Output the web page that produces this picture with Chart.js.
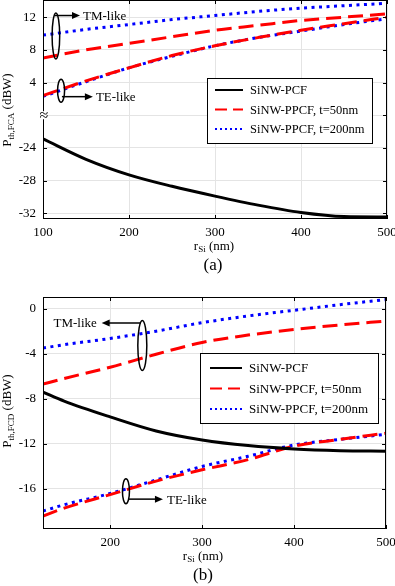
<!DOCTYPE html>
<html>
<head>
<meta charset="utf-8">
<script src="https://cdn.jsdelivr.net/npm/chart.js@4.4.1/dist/chart.umd.min.js"></script>
<style>
  body { margin: 0; background: #fff; }
  .panel { position: absolute; left: 0; width: 395px; }
</style>
</head>
<body>
<div class="panel" style="top:0;height:290px"><canvas id="chartA" width="395" height="290"></canvas></div>
<div class="panel" style="top:290px;height:296px"><canvas id="chartB" width="395" height="296"></canvas></div>
<script>
// ---- panel (a): P_th,FCA vs r_Si ----
const radiusA = [100, 150, 200, 250, 300, 350, 400, 450, 500];
const pcfA = [-22.9, -25.4, -27.3, -28.7, -29.9, -31.0, -31.9, -32.4, -32.45];
const tm50A = [7.0, 8.0, 8.8, 9.6, 10.4, 11.0, 11.6, 12.0, 12.4];
const tm200A = [9.8, 10.5, 11.1, 11.7, 12.2, 12.7, 13.1, 13.4, 13.7];
const te50A = [2.4, 4.2, 5.8, 7.3, 8.5, 9.5, 10.4, 11.2, 12.0];
const te200A = [2.3, 4.1, 5.8, 7.2, 8.5, 9.5, 10.3, 11.1, 11.8];
const xTicksA = [100, 200, 300, 400, 500];
const yTicksA = [-32, -28, -24, 4, 8, 12];   // real values, axis is broken between them

// ---- panel (b): P_th,FCD vs r_Si ----
const radiusB = [127, 150, 200, 250, 300, 350, 400, 450, 500];
const pcfB = [-7.4, -8.2, -9.6, -10.85, -11.65, -12.15, -12.45, -12.6, -12.65];
const tm50B = [-6.7, -6.2, -5.2, -4.05, -3.0, -2.35, -1.85, -1.45, -1.1];
const tm200B = [-3.5, -3.2, -2.65, -2.0, -1.25, -0.65, -0.15, 0.35, 0.8];
const te50B = [-18.4, -17.7, -16.5, -15.3, -14.3, -13.4, -12.2, -11.6, -11.05];
const te200B = [-17.95, -17.4, -16.4, -15.2, -14.0, -13.1, -12.1, -11.6, -11.15];
const xTicksB = [200, 300, 400, 500];
const yTicksB = [-16, -12, -8, -4, 0];

const seriesNames = ['SiNW-PCF', 'SiNW-PPCF, t=50nm', 'SiNW-PPCF, t=200nm'];

// broken axis: negative values are shifted up by 20 dB so the gap shrinks
const GAP = 20;
function toBroken(v) { return v < 0 ? v + GAP : v; }
function fromBroken(v) { return v < 0 ? v - GAP : v; }

const serif = 'Liberation Serif';

function pts(xs, ys, f) {
    return xs.map((x, i) => ({ x: x, y: f ? f(ys[i]) : ys[i] }));
}

function lineSet(label, data, color, dash, legend) {
    return {
        label: label, data: data, borderColor: color, backgroundColor: color,
        borderWidth: 3, borderDash: dash, pointRadius: 0,
        cubicInterpolationMode: 'monotone', fill: false, showInLegend: legend
    };
}

// draws text made of parts (normal + subscript), centred at (x,y)
function richText(ctx, parts, x, y, rot) {
    ctx.save();
    ctx.translate(x, y);
    if (rot) ctx.rotate(rot);
    ctx.textBaseline = 'alphabetic';
    ctx.textAlign = 'left';
    let total = 0;
    parts.forEach(p => { ctx.font = p.size + 'px "' + serif + '"'; p.w = ctx.measureText(p.t).width; total += p.w; });
    let cx = -total / 2;
    parts.forEach(p => {
        ctx.font = p.size + 'px "' + serif + '"';
        ctx.fillStyle = '#000';
        ctx.fillText(p.t, cx, 4 + (p.dy || 0));
        cx += p.w;
    });
    ctx.restore();
}

const decorPlugin = {
    id: 'decor',
    afterDraw(chart, args, opts) {
        const ctx = chart.ctx;
        const a = chart.chartArea;
        const xs = chart.scales.x, ys = chart.scales.y;
        ctx.save();
        // inner tick marks + box
        ctx.strokeStyle = '#000';
        ctx.lineWidth = 1;
        ctx.beginPath();
        ys.ticks.forEach(t => {
            const py = Math.round(ys.getPixelForValue(t.value)) + 0.5;
            ctx.moveTo(a.left, py); ctx.lineTo(a.left + 4, py);
            ctx.moveTo(a.right, py); ctx.lineTo(a.right - 4, py);
        });
        xs.ticks.forEach(t => {
            const px = Math.round(xs.getPixelForValue(t.value)) + 0.5;
            ctx.moveTo(px, a.bottom); ctx.lineTo(px, a.bottom - 4);
            ctx.moveTo(px, a.top); ctx.lineTo(px, a.top + 4);
        });
        ctx.stroke();
        ctx.strokeRect(Math.round(a.left) + 0.5, Math.round(a.top) + 0.5,
            Math.round(a.right - a.left) - 1, Math.round(a.bottom - a.top) - 1);

        // axis break mark
        if (opts.breakAt !== undefined) {
            const by = ys.getPixelForValue(opts.breakAt);
            ctx.fillStyle = '#fff';
            ctx.fillRect(a.left - 4, by - 4, 9, 8);
            ctx.fillStyle = '#000';
            ctx.font = '16px "' + serif + '"';
            ctx.textAlign = 'center';
            ctx.textBaseline = 'middle';
            ctx.fillText('\u2248', a.left + 1, by + 1);
        }

        // ellipses / arrows / labels
        (opts.notes || []).forEach(n => {
            ctx.strokeStyle = '#000';
            ctx.fillStyle = '#000';
            ctx.lineWidth = 1.5;
            const ex = xs.getPixelForValue(n.ex), ey = ys.getPixelForValue(n.ey);
            ctx.beginPath();
            ctx.ellipse(ex, ey, n.rx, n.ry, 0, 0, Math.PI * 2);
            ctx.stroke();
            const x1 = xs.getPixelForValue(n.ax1), x2 = xs.getPixelForValue(n.ax2);
            const ay = ys.getPixelForValue(n.ay);
            const dir = x2 > x1 ? 1 : -1;
            ctx.beginPath();
            ctx.moveTo(x1, ay); ctx.lineTo(x2 - dir * 6, ay);
            ctx.stroke();
            ctx.beginPath();
            ctx.moveTo(x2, ay); ctx.lineTo(x2 - dir * 8, ay - 3.5); ctx.lineTo(x2 - dir * 8, ay + 3.5);
            ctx.closePath();
            ctx.fill();
            ctx.font = '13px "' + serif + '"';
            ctx.textBaseline = 'middle';
            ctx.textAlign = n.align;
            ctx.fillText(n.text, xs.getPixelForValue(n.tx), ay + 1);
        });

        // legend box built from the datasets
        const L = opts.legend;
        ctx.fillStyle = '#fff';
        ctx.fillRect(L.x, L.y, L.w, L.h);
        ctx.strokeStyle = '#000';
        ctx.lineWidth = 1;
        ctx.strokeRect(L.x + 0.5, L.y + 0.5, L.w, L.h);
        let row = 0;
        chart.data.datasets.forEach(ds => {
            if (!ds.showInLegend) return;
            const ry = L.y + L.first + row * L.step;
            ctx.strokeStyle = ds.borderColor;
            ctx.lineWidth = 2;
            ctx.setLineDash(ds.borderDash.length ? L.dashes[row] : []);
            ctx.beginPath();
            ctx.moveTo(L.x + L.s1, ry); ctx.lineTo(L.x + L.s2, ry);
            ctx.stroke();
            ctx.setLineDash([]);
            ctx.fillStyle = '#000';
            ctx.font = L.font + 'px "' + serif + '"';
            ctx.textAlign = 'left';
            ctx.textBaseline = 'middle';
            ctx.fillText(ds.label, L.x + L.tx, ry + 1);
            row++;
        });

        // axis titles and panel label
        richText(ctx, opts.yTitle.parts, opts.yTitle.x, opts.yTitle.y, -Math.PI / 2);
        richText(ctx, opts.xTitle.parts, opts.xTitle.x, opts.xTitle.y, 0);
        ctx.font = '17px "' + serif + '"';
        ctx.fillStyle = '#000';
        ctx.textAlign = 'center';
        ctx.textBaseline = 'middle';
        ctx.fillText(opts.panel.t, opts.panel.x, opts.panel.y);
        ctx.restore();
    }
};

function axisX(min, max, ticks, height) {
    return {
        type: 'linear', min: min, max: max,
        afterBuildTicks: s => { s.ticks = ticks.map(v => ({ value: v })); },
        afterFit: s => { s.height = height; s.paddingLeft = 0; s.paddingRight = 0; },
        grid: { color: '#e4e4e4', drawTicks: false },
        border: { display: false },
        ticks: { padding: 6, color: '#000', font: { family: serif, size: 13 }, maxRotation: 0 }
    };
}

function axisY(min, max, ticks, labelFn) {
    return {
        type: 'linear', min: min, max: max,
        afterBuildTicks: s => { s.ticks = ticks.map(v => ({ value: v })); },
        afterFit: s => { s.width = 43; s.paddingTop = 0; s.paddingBottom = 0; },
        grid: { color: '#e4e4e4', drawTicks: false },
        border: { display: false },
        ticks: { padding: 7, color: '#000', font: { family: serif, size: 13 }, callback: labelFn }
    };
}

const legendDashes = [[], [12, 6], [2, 3]];

new Chart(document.getElementById('chartA').getContext('2d'), {
    type: 'line',
    data: {
        datasets: [
            lineSet(seriesNames[0], pts(radiusA, pcfA, toBroken), '#000', [], true),
            lineSet(seriesNames[1], pts(radiusA, tm50A, toBroken), '#ff0000', [15, 7], true),
            lineSet(seriesNames[2], pts(radiusA, tm200A, toBroken), '#0000ff', [3, 4.5], true),
            lineSet(seriesNames[1], pts(radiusA, te50A, toBroken), '#ff0000', [15, 7], false),
            lineSet(seriesNames[2], pts(radiusA, te200A, toBroken), '#0000ff', [3, 4.5], false)
        ]
    },
    plugins: [decorPlugin],
    options: {
        responsive: false,
        animation: false,
        layout: { padding: { left: 0, right: 8, top: 0, bottom: 0 } },
        scales: {
            x: axisX(100, 500, xTicksA, 71),
            y: axisY(-12.7, 14.1, [0].concat(yTicksA.map(toBroken)),
                v => v === 0 ? '' : String(fromBroken(v)))
        },
        plugins: {
            legend: { display: false },
            tooltip: { enabled: false },
            decor: {
                breakAt: 0,
                notes: [
                    { text: 'TM-like', ex: 115, ey: 9.7, rx: 3.8, ry: 23, ax1: 113, ax2: 143, ay: 12.2, tx: 146.5, align: 'left' },
                    { text: 'TE-like', ex: 121, ey: 3.0, rx: 3.5, ry: 11.5, ax1: 122, ax2: 158, ay: 2.27, tx: 161.5, align: 'left' }
                ],
                legend: { x: 207, y: 78, w: 165, h: 65, first: 12, step: 19.5, s1: 8, s2: 36, tx: 43, font: 12.5, dashes: legendDashes },
                yTitle: { x: 7, y: 110, parts: [{ t: 'P', size: 13 }, { t: 'th,FCA', size: 9, dy: 3 }, { t: ' (dBW)', size: 13 }] },
                xTitle: { x: 214, y: 246, parts: [{ t: 'r', size: 13 }, { t: 'Si', size: 9, dy: 2 }, { t: ' (nm)', size: 13 }] },
                panel: { t: '(a)', x: 213, y: 266 }
            }
        }
    }
});

new Chart(document.getElementById('chartB').getContext('2d'), {
    type: 'line',
    data: {
        datasets: [
            lineSet(seriesNames[0], pts(radiusB, pcfB), '#000', [], true),
            lineSet(seriesNames[1], pts(radiusB, tm50B), '#ff0000', [15, 7], true),
            lineSet(seriesNames[2], pts(radiusB, tm200B), '#0000ff', [3, 4.5], true),
            lineSet(seriesNames[1], pts(radiusB, te50B), '#ff0000', [15, 7], false),
            lineSet(seriesNames[2], pts(radiusB, te200B), '#0000ff', [3, 4.5], false)
        ]
    },
    plugins: [decorPlugin],
    options: {
        responsive: false,
        animation: false,
        layout: { padding: { left: 0, right: 9, top: 7, bottom: 0 } },
        scales: {
            x: axisX(127, 500, xTicksB, 57),
            y: axisY(-19.55, 1.03, yTicksB, v => String(v))
        },
        plugins: {
            legend: { display: false },
            tooltip: { enabled: false },
            decor: {
                notes: [
                    { text: 'TM-like', ex: 235, ey: -3.27, rx: 4.5, ry: 25, ax1: 233.5, ax2: 190.8, ay: -1.28, tx: 185.5, align: 'right' },
                    { text: 'TE-like', ex: 217.2, ey: -16.2, rx: 3.5, ry: 12.5, ax1: 219.4, ax2: 257.4, ay: -16.9, tx: 261.8, align: 'left' }
                ],
                legend: { x: 200, y: 63, w: 178, h: 70, first: 15, step: 20.5, s1: 10, s2: 42, tx: 49, font: 13, dashes: legendDashes },
                yTitle: { x: 7, y: 121, parts: [{ t: 'P', size: 13 }, { t: 'th,FCD', size: 9, dy: 3 }, { t: ' (dBW)', size: 13 }] },
                xTitle: { x: 203, y: 266, parts: [{ t: 'r', size: 13 }, { t: 'Si', size: 9, dy: 2 }, { t: ' (nm)', size: 13 }] },
                panel: { t: '(b)', x: 203, y: 286 }
            }
        }
    }
});
</script>
</body>
</html>
